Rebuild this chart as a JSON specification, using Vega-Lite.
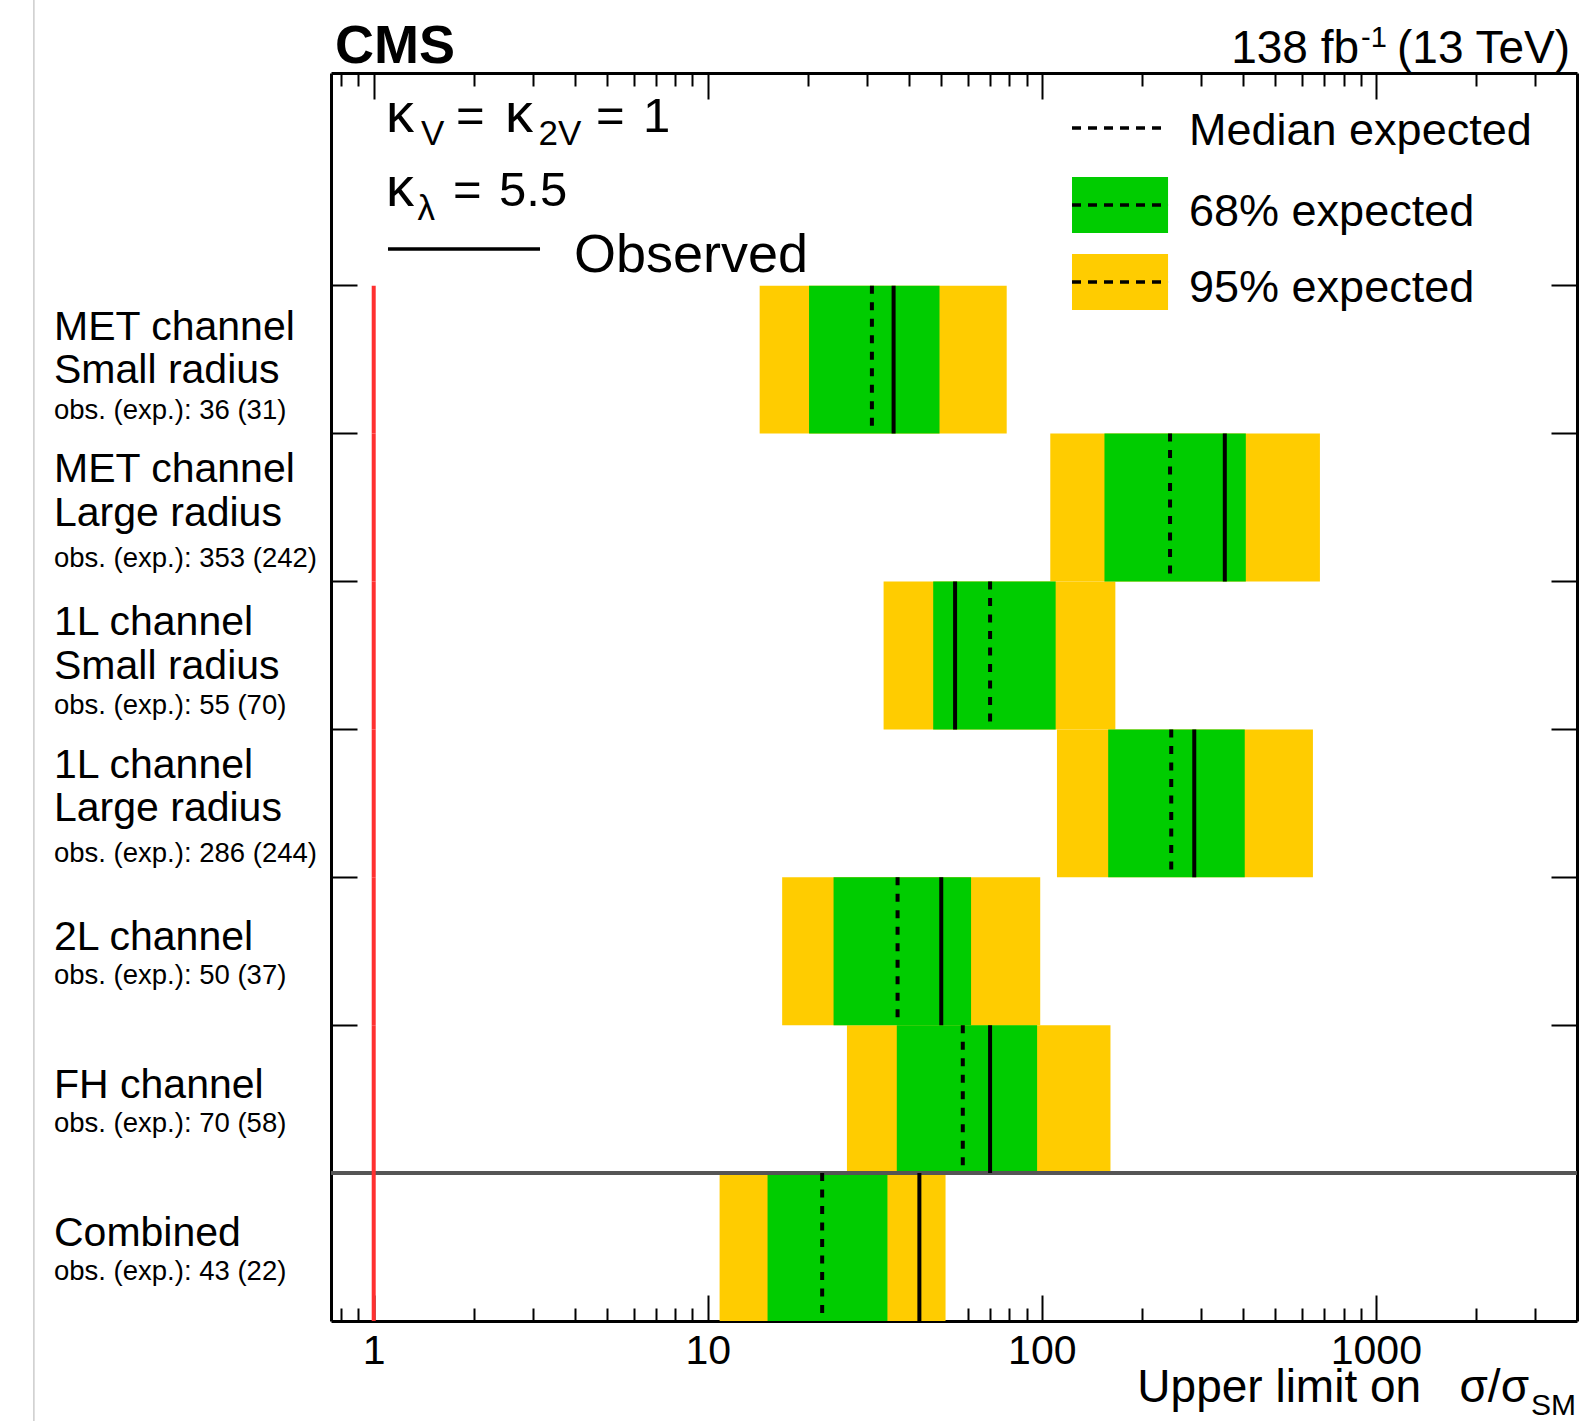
{
  "$schema": "https://vega.github.io/schema/vega-lite/v6.json",
  "width": 1246,
  "height": 1248,
  "autosize": {"type": "none"},
  "padding": {"left": 331, "top": 73, "right": 16, "bottom": 100},
  "background": "white",
  "config": {
    "font": "Liberation Sans",
    "view": {"stroke": null},
    "text": {"font": "Liberation Sans", "color": "black"},
    "axis": {"domainColor": "black", "domainWidth": 3, "tickColor": "black", "tickWidth": 2, "zindex": 1, "grid": false}
  },
  "datasets": {
    "limits": [
      {"channel": "MET channel, Small radius", "lines": ["MET channel", "Small radius"], "note": "obs. (exp.): 36 (31)", "obs": 36, "exp": 31, "lo95": 14.3, "lo68": 20.1, "hi68": 49.4, "hi95": 78.5},
      {"channel": "MET channel, Large radius", "lines": ["MET channel", "Large radius"], "note": "obs. (exp.): 353 (242)", "obs": 353, "exp": 242, "lo95": 106, "lo68": 154, "hi68": 408, "hi95": 680},
      {"channel": "1L channel, Small radius", "lines": ["1L channel", "Small radius"], "note": "obs. (exp.): 55 (70)", "obs": 55, "exp": 70, "lo95": 33.6, "lo68": 47.3, "hi68": 110, "hi95": 166},
      {"channel": "1L channel, Large radius", "lines": ["1L channel", "Large radius"], "note": "obs. (exp.): 286 (244)", "obs": 286, "exp": 244, "lo95": 111, "lo68": 158, "hi68": 405, "hi95": 648},
      {"channel": "2L channel", "lines": ["2L channel"], "note": "obs. (exp.): 50 (37)", "obs": 50, "exp": 37, "lo95": 16.7, "lo68": 23.8, "hi68": 61.4, "hi95": 98.9},
      {"channel": "FH channel", "lines": ["FH channel"], "note": "obs. (exp.): 70 (58)", "obs": 70, "exp": 58, "lo95": 26.1, "lo68": 36.8, "hi68": 96.8, "hi95": 160.5},
      {"channel": "Combined", "lines": ["Combined"], "note": "obs. (exp.): 43 (22)", "obs": 43, "exp": 22, "lo95": 10.85, "lo68": 15.1, "hi68": 34.5, "hi95": 51.5}
    ]
  },
  "layer": [
    {
      "data": {"name": "limits"},
      "mark": {"type": "rect", "color": "#ffcc00"},
      "encoding": {
        "x": {
          "field": "lo95", "type": "quantitative",
          "scale": {"type": "log", "domain": [0.745, 4000], "nice": false},
          "axis": {
            "orient": "bottom", "title": null, "domain": true,
            "values": [0.8, 0.9, 1, 2, 3, 4, 5, 6, 7, 8, 9, 10, 20, 30, 40, 50, 60, 70, 80, 90, 100, 200, 300, 400, 500, 600, 700, 800, 900, 1000, 2000, 3000],
            "labelExpr": "indexof([1, 10, 100, 1000], datum.value) >= 0 ? datum.value + '' : ''",
            "tickSize": {"condition": {"test": "indexof([1, 10, 100, 1000], datum.value) >= 0", "value": -26}, "value": -13},
            "labelFont": "Liberation Sans", "labelFontSize": 41, "labelColor": "black", "labelPadding": 36,
            "labelOverlap": false, "labelFlush": false, "labelBound": false
          }
        },
        "x2": {"field": "hi95"},
        "y": {
          "field": "channel", "type": "nominal",
          "scale": {"type": "band", "domain": ["MET channel, Small radius", "MET channel, Large radius", "1L channel, Small radius", "1L channel, Large radius", "2L channel", "FH channel", "Combined"], "paddingInner": 0, "paddingOuter": 0.719, "align": 1},
          "axis": {"orient": "left", "labels": false, "title": null, "bandPosition": 0, "tickSize": -26, "domain": true, "ticks": true}
        }
      }
    },
    {
      "data": {"name": "limits"},
      "mark": {"type": "rect", "color": "#00cc00"},
      "encoding": {
        "x": {"field": "lo68", "type": "quantitative", "axis": null},
        "x2": {"field": "hi68"},
        "y": {"field": "channel", "type": "nominal", "axis": null,
              "scale": {"type": "band", "domain": ["MET channel, Small radius", "MET channel, Large radius", "1L channel, Small radius", "1L channel, Large radius", "2L channel", "FH channel", "Combined"], "paddingInner": 0, "paddingOuter": 0.719, "align": 1}}
      }
    },
    {
      "data": {"name": "limits"},
      "mark": {"type": "rule", "color": "#555555", "strokeWidth": 3},
      "encoding": {
        "y": {"datum": "Combined", "type": "nominal", "bandPosition": 0, "axis": null,
              "scale": {"type": "band", "domain": ["MET channel, Small radius", "MET channel, Large radius", "1L channel, Small radius", "1L channel, Large radius", "2L channel", "FH channel", "Combined"], "paddingInner": 0, "paddingOuter": 0.719, "align": 1}}
      }
    },
    {
      "data": {"name": "limits"},
      "mark": {"type": "rule", "color": "black", "strokeWidth": 4, "strokeDash": [8, 8.5]},
      "encoding": {
        "x": {"field": "exp", "type": "quantitative", "axis": null},
        "y": {"field": "channel", "type": "nominal", "bandPosition": 0, "axis": null,
              "scale": {"type": "band", "domain": ["MET channel, Small radius", "MET channel, Large radius", "1L channel, Small radius", "1L channel, Large radius", "2L channel", "FH channel", "Combined"], "paddingInner": 0, "paddingOuter": 0.719, "align": 1}},
        "y2": {"field": "channel", "type": "nominal", "bandPosition": 1}
      }
    },
    {
      "data": {"name": "limits"},
      "mark": {"type": "rule", "color": "black", "strokeWidth": 4},
      "encoding": {
        "x": {"field": "obs", "type": "quantitative", "axis": null},
        "y": {"field": "channel", "type": "nominal", "bandPosition": 0, "axis": null,
              "scale": {"type": "band", "domain": ["MET channel, Small radius", "MET channel, Large radius", "1L channel, Small radius", "1L channel, Large radius", "2L channel", "FH channel", "Combined"], "paddingInner": 0, "paddingOuter": 0.719, "align": 1}},
        "y2": {"field": "channel", "type": "nominal", "bandPosition": 1}
      }
    },
    {
      "data": {"name": "limits"},
      "mark": {"type": "rule", "color": "#ff3030", "strokeWidth": 4},
      "encoding": {
        "x": {
          "datum": 1, "type": "quantitative",
          "scale": {"type": "log", "domain": [0.745, 4000], "nice": false},
          "axis": {
            "orient": "top", "title": null, "domain": true, "labels": false,
            "values": [0.8, 0.9, 1, 2, 3, 4, 5, 6, 7, 8, 9, 10, 20, 30, 40, 50, 60, 70, 80, 90, 100, 200, 300, 400, 500, 600, 700, 800, 900, 1000, 2000, 3000],
            "tickSize": {"condition": {"test": "indexof([1, 10, 100, 1000], datum.value) >= 0", "value": -26}, "value": -13}
          }
        },
        "y": {
          "field": "channel", "type": "nominal", "bandPosition": 0,
          "scale": {"type": "band", "domain": ["MET channel, Small radius", "MET channel, Large radius", "1L channel, Small radius", "1L channel, Large radius", "2L channel", "FH channel", "Combined"], "paddingInner": 0, "paddingOuter": 0.719, "align": 1},
          "axis": {"orient": "right", "labels": false, "title": null, "bandPosition": 0, "tickSize": -26, "domain": true, "ticks": true}
        },
        "y2": {"field": "channel", "type": "nominal", "bandPosition": 1}
      }
    },
    {
      "data": {"name": "limits"},
      "transform": [{"filter": "length(datum.lines) > 1 && indexof(datum.channel, 'Small') >= 0"}],
      "mark": {"type": "text", "align": "left", "baseline": "middle", "fontSize": 41, "lineHeight": 43.5, "dy": -32},
      "encoding": {
        "x": {"datum": 0.1104, "type": "quantitative", "axis": null},
        "y": {"field": "channel", "type": "nominal", "axis": null,
              "scale": {"type": "band", "domain": ["MET channel, Small radius", "MET channel, Large radius", "1L channel, Small radius", "1L channel, Large radius", "2L channel", "FH channel", "Combined"], "paddingInner": 0, "paddingOuter": 0.719, "align": 1}},
        "text": {"field": "lines", "type": "nominal"}
      }
    },
    {
      "data": {"name": "limits"},
      "transform": [{"filter": "length(datum.lines) > 1 && indexof(datum.channel, 'Large') >= 0"}],
      "mark": {"type": "text", "align": "left", "baseline": "middle", "fontSize": 41, "lineHeight": 43.5, "dy": -37.5},
      "encoding": {
        "x": {"datum": 0.1104, "type": "quantitative", "axis": null},
        "y": {"field": "channel", "type": "nominal", "axis": null,
              "scale": {"type": "band", "domain": ["MET channel, Small radius", "MET channel, Large radius", "1L channel, Small radius", "1L channel, Large radius", "2L channel", "FH channel", "Combined"], "paddingInner": 0, "paddingOuter": 0.719, "align": 1}},
        "text": {"field": "lines", "type": "nominal"}
      }
    },
    {
      "data": {"name": "limits"},
      "transform": [{"filter": "length(datum.lines) == 1"}],
      "mark": {"type": "text", "align": "left", "baseline": "middle", "fontSize": 41, "dy": -13},
      "encoding": {
        "x": {"datum": 0.1104, "type": "quantitative", "axis": null},
        "y": {"field": "channel", "type": "nominal", "axis": null,
              "scale": {"type": "band", "domain": ["MET channel, Small radius", "MET channel, Large radius", "1L channel, Small radius", "1L channel, Large radius", "2L channel", "FH channel", "Combined"], "paddingInner": 0, "paddingOuter": 0.719, "align": 1}},
        "text": {"field": "lines", "type": "nominal"}
      }
    },
    {
      "data": {"name": "limits"},
      "transform": [{"filter": "length(datum.lines) > 1"}],
      "mark": {"type": "text", "align": "left", "baseline": "middle", "fontSize": 27.5, "dy": 51},
      "encoding": {
        "x": {"datum": 0.1104, "type": "quantitative", "axis": null},
        "y": {"field": "channel", "type": "nominal", "axis": null,
              "scale": {"type": "band", "domain": ["MET channel, Small radius", "MET channel, Large radius", "1L channel, Small radius", "1L channel, Large radius", "2L channel", "FH channel", "Combined"], "paddingInner": 0, "paddingOuter": 0.719, "align": 1}},
        "text": {"field": "note", "type": "nominal"}
      }
    },
    {
      "data": {"name": "limits"},
      "transform": [{"filter": "length(datum.lines) == 1"}],
      "mark": {"type": "text", "align": "left", "baseline": "middle", "fontSize": 27.5, "dy": 24.5},
      "encoding": {
        "x": {"datum": 0.1104, "type": "quantitative", "axis": null},
        "y": {"field": "channel", "type": "nominal", "axis": null,
              "scale": {"type": "band", "domain": ["MET channel, Small radius", "MET channel, Large radius", "1L channel, Small radius", "1L channel, Large radius", "2L channel", "FH channel", "Combined"], "paddingInner": 0, "paddingOuter": 0.719, "align": 1}},
        "text": {"field": "note", "type": "nominal"}
      }
    },
    {
      "data": {"values": [{}]},
      "encoding": {
        "y": {"type": "quantitative", "scale": {"domain": [0, 1], "nice": false, "zero": false}, "axis": null}
      },
      "layer": [
        {"mark": {"type": "rule", "color": "#cccccc", "strokeWidth": 1.5},
         "encoding": {"x": {"datum": 0.0961, "type": "quantitative", "axis": null}, "y": {"datum": 1.0585, "type": "quantitative", "axis": null}, "y2": {"datum": -0.0801}}},

        {"mark": {"type": "text", "text": "CMS", "align": "left", "baseline": "alphabetic", "fontSize": 54, "fontWeight": "bold"},
         "encoding": {"x": {"datum": 0.766, "type": "quantitative", "axis": null}, "y": {"datum": 1.008, "type": "quantitative", "axis": null}}},

        {"mark": {"type": "text", "text": "κ", "align": "left", "baseline": "alphabetic", "fontSize": 56},
         "encoding": {"x": {"datum": 1.0885, "type": "quantitative", "axis": null}, "y": {"datum": 0.9527, "type": "quantitative", "axis": null}}},
        {"mark": {"type": "text", "text": "V", "align": "left", "baseline": "alphabetic", "fontSize": 35},
         "encoding": {"x": {"datum": 1.3857, "type": "quantitative", "axis": null}, "y": {"datum": 0.9423, "type": "quantitative", "axis": null}}},
        {"mark": {"type": "text", "text": "=", "align": "left", "baseline": "alphabetic", "fontSize": 49},
         "encoding": {"x": {"datum": 1.7638, "type": "quantitative", "axis": null}, "y": {"datum": 0.9527, "type": "quantitative", "axis": null}}},
        {"mark": {"type": "text", "text": "κ", "align": "left", "baseline": "alphabetic", "fontSize": 56},
         "encoding": {"x": {"datum": 2.4725, "type": "quantitative", "axis": null}, "y": {"datum": 0.9527, "type": "quantitative", "axis": null}}},
        {"mark": {"type": "text", "text": "2V", "align": "left", "baseline": "alphabetic", "fontSize": 35},
         "encoding": {"x": {"datum": 3.1135, "type": "quantitative", "axis": null}, "y": {"datum": 0.9423, "type": "quantitative", "axis": null}}},
        {"mark": {"type": "text", "text": "=", "align": "left", "baseline": "alphabetic", "fontSize": 49},
         "encoding": {"x": {"datum": 4.629, "type": "quantitative", "axis": null}, "y": {"datum": 0.9527, "type": "quantitative", "axis": null}}},
        {"mark": {"type": "text", "text": "1", "align": "left", "baseline": "alphabetic", "fontSize": 49},
         "encoding": {"x": {"datum": 6.4, "type": "quantitative", "axis": null}, "y": {"datum": 0.9527, "type": "quantitative", "axis": null}}},

        {"mark": {"type": "text", "text": "κ", "align": "left", "baseline": "alphabetic", "fontSize": 56},
         "encoding": {"x": {"datum": 1.0885, "type": "quantitative", "axis": null}, "y": {"datum": 0.8934, "type": "quantitative", "axis": null}}},
        {"mark": {"type": "text", "text": "λ", "align": "left", "baseline": "alphabetic", "fontSize": 35},
         "encoding": {"x": {"datum": 1.3531, "type": "quantitative", "axis": null}, "y": {"datum": 0.8826, "type": "quantitative", "axis": null}}},
        {"mark": {"type": "text", "text": "=", "align": "left", "baseline": "alphabetic", "fontSize": 49},
         "encoding": {"x": {"datum": 1.7277, "type": "quantitative", "axis": null}, "y": {"datum": 0.8934, "type": "quantitative", "axis": null}}},
        {"mark": {"type": "text", "text": "5.5", "align": "left", "baseline": "alphabetic", "fontSize": 49},
         "encoding": {"x": {"datum": 2.3721, "type": "quantitative", "axis": null}, "y": {"datum": 0.8934, "type": "quantitative", "axis": null}}},

        {"mark": {"type": "rule", "color": "black", "strokeWidth": 3.5},
         "encoding": {"x": {"datum": 1.1035, "type": "quantitative", "axis": null}, "x2": {"datum": 3.1466}, "y": {"datum": 0.859, "type": "quantitative", "axis": null}}},
        {"mark": {"type": "text", "text": "Observed", "align": "left", "baseline": "alphabetic", "fontSize": 54},
         "encoding": {"x": {"datum": 3.978, "type": "quantitative", "axis": null}, "y": {"datum": 0.8405, "type": "quantitative", "axis": null}}},

        {"mark": {"type": "rule", "color": "black", "strokeWidth": 3.5, "strokeDash": [9, 7]},
         "encoding": {"x": {"datum": 123.13, "type": "quantitative", "axis": null}, "x2": {"datum": 233.8}, "y": {"datum": 0.9559, "type": "quantitative", "axis": null}}},
        {"mark": {"type": "text", "text": "Median expected", "align": "left", "baseline": "alphabetic", "fontSize": 45},
         "encoding": {"x": {"datum": 275.8, "type": "quantitative", "axis": null}, "y": {"datum": 0.9421, "type": "quantitative", "axis": null}}},

        {"mark": {"type": "rect", "color": "#00cc00"},
         "encoding": {"x": {"datum": 123.13, "type": "quantitative", "axis": null}, "x2": {"datum": 238.7}, "y": {"datum": 0.9167, "type": "quantitative", "axis": null}, "y2": {"datum": 0.8718}}},
        {"mark": {"type": "rule", "color": "black", "strokeWidth": 3.5, "strokeDash": [9, 7]},
         "encoding": {"x": {"datum": 123.13, "type": "quantitative", "axis": null}, "x2": {"datum": 238.7}, "y": {"datum": 0.8942, "type": "quantitative", "axis": null}}},
        {"mark": {"type": "text", "text": "68% expected", "align": "left", "baseline": "alphabetic", "fontSize": 45},
         "encoding": {"x": {"datum": 275.8, "type": "quantitative", "axis": null}, "y": {"datum": 0.8777, "type": "quantitative", "axis": null}}},

        {"mark": {"type": "rect", "color": "#ffcc00"},
         "encoding": {"x": {"datum": 123.13, "type": "quantitative", "axis": null}, "x2": {"datum": 238.7}, "y": {"datum": 0.855, "type": "quantitative", "axis": null}, "y2": {"datum": 0.8101}}},
        {"mark": {"type": "rule", "color": "black", "strokeWidth": 3.5, "strokeDash": [9, 7]},
         "encoding": {"x": {"datum": 123.13, "type": "quantitative", "axis": null}, "x2": {"datum": 238.7}, "y": {"datum": 0.8325, "type": "quantitative", "axis": null}}},
        {"mark": {"type": "text", "text": "95% expected", "align": "left", "baseline": "alphabetic", "fontSize": 45},
         "encoding": {"x": {"datum": 275.8, "type": "quantitative", "axis": null}, "y": {"datum": 0.8167, "type": "quantitative", "axis": null}}},

        {"mark": {"type": "text", "text": "138 fb", "align": "right", "baseline": "alphabetic", "fontSize": 46},
         "encoding": {"x": {"datum": 890.4, "type": "quantitative", "axis": null}, "y": {"datum": 1.008, "type": "quantitative", "axis": null}}},
        {"mark": {"type": "text", "text": "-1", "align": "left", "baseline": "alphabetic", "fontSize": 29},
         "encoding": {"x": {"datum": 902.7, "type": "quantitative", "axis": null}, "y": {"datum": 1.0208, "type": "quantitative", "axis": null}}},
        {"mark": {"type": "text", "text": "(13 TeV)", "align": "right", "baseline": "alphabetic", "fontSize": 46},
         "encoding": {"x": {"datum": 3812, "type": "quantitative", "axis": null}, "y": {"datum": 1.008, "type": "quantitative", "axis": null}}},

        {"mark": {"type": "text", "text": "Upper limit on \u00a0\u00a0σ/σ", "align": "right", "baseline": "alphabetic", "fontSize": 46},
         "encoding": {"x": {"datum": 2874, "type": "quantitative", "axis": null}, "y": {"datum": -0.0649, "type": "quantitative", "axis": null}}},
        {"mark": {"type": "text", "text": "SM", "align": "left", "baseline": "alphabetic", "fontSize": 30},
         "encoding": {"x": {"datum": 2914, "type": "quantitative", "axis": null}, "y": {"datum": -0.0753, "type": "quantitative", "axis": null}}}
      ]
    }
  ],
  "resolve": {"scale": {"y": "independent"}, "axis": {"x": "independent", "y": "independent"}}
}
